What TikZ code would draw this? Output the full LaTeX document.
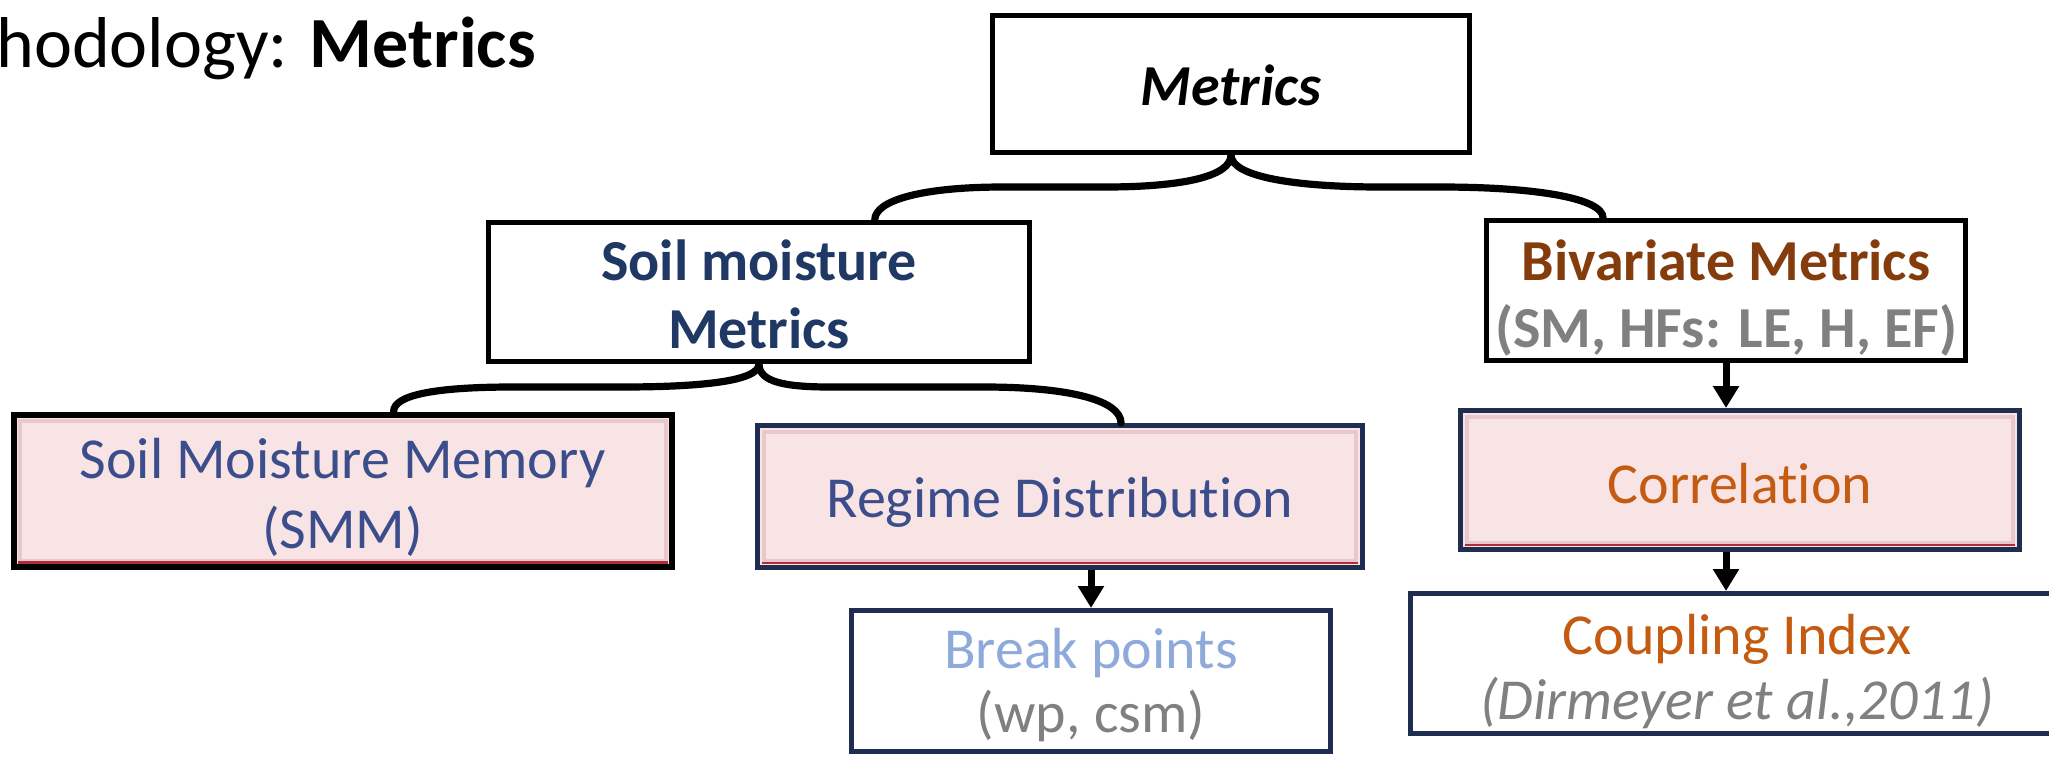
\documentclass[tikz,border=0pt]{standalone}
\usepackage{fontspec}
\setmainfont{Carlito}[Ligatures=NoCommon]
\usetikzlibrary{arrows.meta,calc}
\definecolor{soilblue}{RGB}{32,56,100}
\definecolor{txtblue}{RGB}{60,77,140}
\definecolor{bivbrown}{RGB}{132,60,12}
\definecolor{txtgray}{RGB}{128,128,128}
\definecolor{lightblue}{RGB}{142,170,219}
\definecolor{txtorange}{RGB}{197,90,17}
\definecolor{navy}{RGB}{30,45,80}
\definecolor{pinkfill}{RGB}{248,228,229}
\definecolor{pinkedge}{RGB}{232,200,202}
\definecolor{bevelred}{RGB}{175,45,55}
\newcommand{\bxf}[1]{\fontsize{29}{#1}\selectfont}
\newcommand{\dn}[1]{\rule{0pt}{#1}}
\begin{document}
\begin{tikzpicture}[x=0.5pt,y=-0.5pt,
  box/.style={draw=black, line width=2.5pt, inner sep=0pt, align=center, fill=white},
  pinkbox/.style={box, fill=pinkfill},
  navybox/.style={draw=navy},
  brace/.style={line width=3.6pt, line cap=round},
  arr/.style={line width=3.5pt, -{Triangle[width=12.5pt,length=11pt]}},
  bevel/.style={line width=2pt, draw=pinkedge},
  bevelbottom/.style={line width=1.2pt, draw=bevelred}
]
\clip (0,0) rectangle (2049,756);

% title
\node[anchor=base west, inner sep=0pt, font=\fontsize{36}{42}\selectfont] (title) at (-4,67) {hodology: \textbf{Metrics}};

% level 0
\node[box, minimum width=238.5pt, minimum height=68.5pt, font=\bxf{35}\bfseries\itshape] (metrics) at (1231,84) {\dn{21.5pt}Metrics};

% level 1
\node[box, minimum width=270.5pt, minimum height=69.5pt, text=soilblue, font=\bxf{34}\bfseries] (soil) at (759,292) {\dn{22.5pt}Soil moisture\\Metrics};
\node[box, minimum width=239.5pt, minimum height=70pt, font=\bxf{33.5}\bfseries] (biv) at (1726,290.5) {\dn{28pt}\textcolor{bivbrown}{Bivariate Metrics}\\\textcolor{txtgray}{(SM, HFs: LE, H, EF)}};

% level 2
\node[pinkbox, minimum width=329pt, minimum height=76pt, text=txtblue, font=\bxf{35}, line width=3pt] (smm) at (342.5,490.5) {\dn{27pt}Soil Moisture Memory\\(SMM)};
\node[pinkbox, navybox, minimum width=302.5pt, minimum height=71pt, text=txtblue, font=\bxf{35}] (regime) at (1060,496.5) {\dn{26pt}Regime Distribution};
\node[pinkbox, navybox, minimum width=279.5pt, minimum height=69.5pt, text=txtorange, font=\bxf{35}] (corr) at (1740,480) {\dn{24pt}Correlation};

% level 3
\node[box, navybox, minimum width=239.5pt, minimum height=70.5pt, font=\bxf{32}] (break) at (1091,681) {\dn{24pt}\textcolor{lightblue}{Break points}\\\textcolor{txtgray}{(wp, csm)}};
\node[box, navybox, minimum width=326.5pt, minimum height=70pt, font=\bxf{32.5}] (coup) at (1737,663.5) {\dn{28.5pt}\textcolor{txtorange}{Coupling Index}\\\textcolor{txtgray}{\itshape (Dirmeyer et al.,2011)}};

% bevel hints on pink boxes
\foreach \n in {smm,regime,corr}{
  \draw[bevel] ($(\n.north west)+(9,9)$) rectangle ($(\n.south east)+(-9,-9)$);
  \draw[bevelbottom] ($(\n.south west)+(7,-7)$) -- ($(\n.south east)+(-7,-7)$);
}

% braces
\draw[brace] (metrics.south) .. controls +(0,22) and +(75,0) .. (1105,187) -- (1003,187)
  .. controls +(-80,0) and +(0,-20) .. ($(soil.north west)!0.712!(soil.north east)$);
\draw[brace] (metrics.south) .. controls +(0,22) and +(-85,0) .. (1381,187) -- (1440,187)
  .. controls +(95,0) and +(0,-20) .. ($(biv.north west)!0.246!(biv.north east)$);

\draw[brace] (soil.south) .. controls +(0,18) and +(75,0) .. (621,387) -- (513,387)
  .. controls +(-80,0) and +(0,-16) .. ($(smm.north west)!0.577!(smm.north east)$);
\draw[brace] (soil.south) .. controls +(0,18) and +(-45,0) .. (830,387) -- (984,387)
  .. controls +(88,0) and +(0,-22) .. ($(regime.north west)!0.60!(regime.north east)$);

% arrows
\draw[arr] (biv.south) -- (biv.south |- corr.north);
\draw[arr] (biv.south |- corr.south) -- (biv.south |- coup.north);
\draw[arr] (break.north |- regime.south) -- (break.north);
\end{tikzpicture}
\end{document}
